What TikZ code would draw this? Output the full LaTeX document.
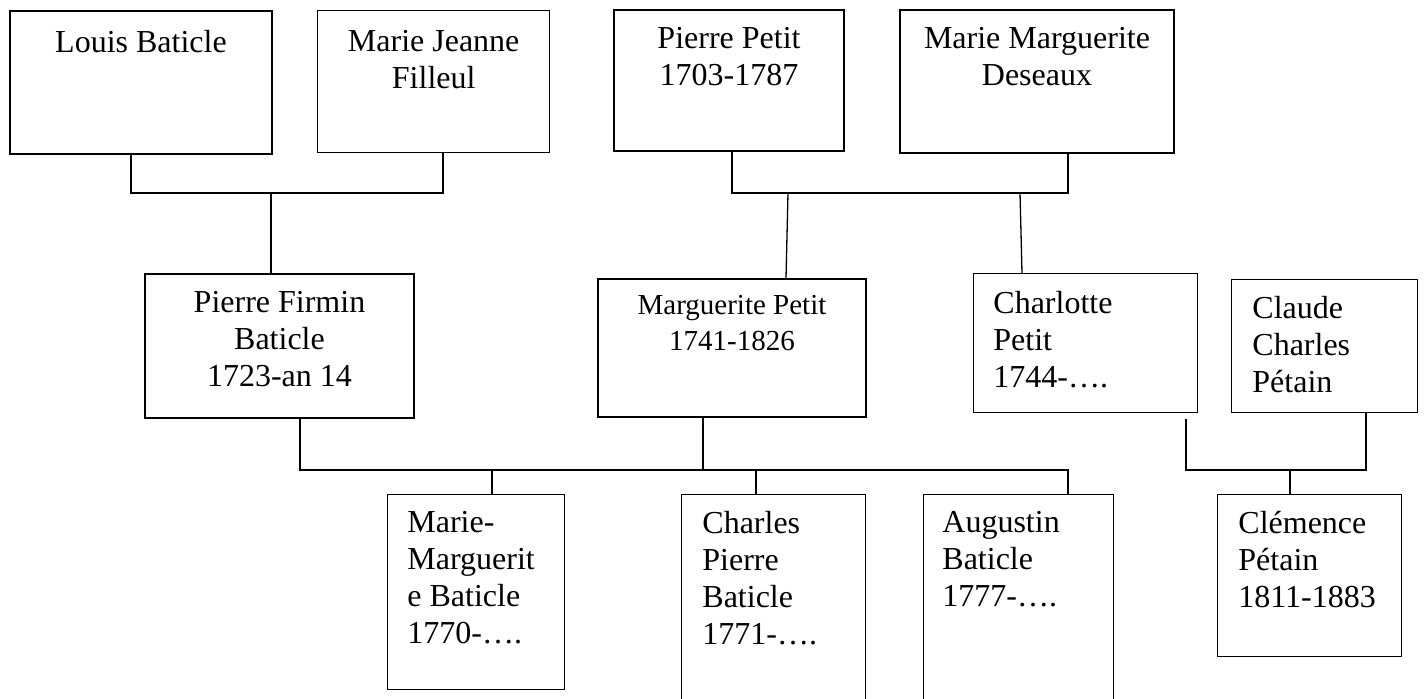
\documentclass[tikz,border=0pt]{standalone}
\usepackage{fontspec}
\setmainfont{Liberation Serif}
\usetikzlibrary{positioning}

\begin{document}
\begin{tikzpicture}[x=0.5pt,y=-0.5pt]
   \useasboundingbox (0,0) rectangle (1424,698);
   \clip (0,0) rectangle (1424,698);
   \fill[white] (0,0) rectangle (1424,698);
   \tikzstyle{pbox}=[draw, line width=1pt, anchor=north west, inner sep=0pt]
   \tikzstyle{light}=[line width=0.7pt]
   \tikzstyle{ptext}=[inner sep=0pt, align=center, font=\fontsize{16pt}{18.5pt}\selectfont]
   \tikzstyle{ptextl}=[inner sep=0pt, align=left, font=\fontsize{16pt}{18.5pt}\selectfont]
   \tikzstyle{tie}=[draw, line width=0.65pt]
   % grands-parents
   \node[pbox, minimum width=131pt, minimum height=71.5pt] (louis) at (9,10) {};
   \node[ptext, below=10pt of louis.north] (louis-t) {Louis Baticle};
   \node[pbox, light, minimum width=116pt, minimum height=71pt] (filleul) at (317,10) {};
   \node[ptext, below=10pt of filleul.north] (filleul-t) {Marie Jeanne\\Filleul};
   \node[pbox, minimum width=115pt, minimum height=70.5pt] (ppetit) at (613,9) {};
   \node[ptext, below=9pt of ppetit.north] (ppetit-t) {Pierre Petit\\1703-1787};
   \node[pbox, minimum width=137pt, minimum height=71.5pt] (deseaux) at (899,9) {};
   \node[ptext, below=9pt of deseaux.north] (deseaux-t) {Marie Marguerite\\Deseaux};
   % parents
   \node[pbox, minimum width=134.5pt, minimum height=72pt] (firmin) at (144,273) {};
   \node[ptext, below=9pt of firmin.north] (firmin-t) {Pierre Firmin\\Baticle\\1723-an 14};
   \node[pbox, minimum width=134pt, minimum height=69pt] (mpetit) at (597,278) {};
   \node[ptext, font=\fontsize{14.5pt}{18pt}\selectfont, below=8.5pt of mpetit.north] (mpetit-t) {Marguerite Petit\\1741-1826};
   \node[pbox, light, minimum width=112pt, minimum height=69.5pt] (charlotte) at (973,273) {};
   \node[ptextl, below right=9pt and 10pt of charlotte.north west] (charlotte-t) {Charlotte\\Petit\\1744-….};
   \node[pbox, light, minimum width=93pt, minimum height=66.5pt] (claude) at (1231,279) {};
   \node[ptextl, below right=8.5pt and 10.5pt of claude.north west] (claude-t) {Claude\\Charles\\Pétain};
   % enfants
   \node[pbox, light, minimum width=88.5pt, minimum height=97.5pt] (mmbaticle) at (387,494) {};
   \node[ptextl, below right=8.5pt and 10pt of mmbaticle.north west] (mmbaticle-t) {Marie-\\Marguerit\\e Baticle\\1770-….};
   \node[pbox, light, minimum width=92pt, minimum height=130pt] (cpbaticle) at (681,494) {};
   \node[ptextl, below right=8.5pt and 10.5pt of cpbaticle.north west] (cpbaticle-t) {Charles\\Pierre\\Baticle\\1771-….};
   \node[pbox, light, minimum width=95pt, minimum height=130pt] (augustin) at (923,494) {};
   \node[ptextl, below right=8.5pt and 9.5pt of augustin.north west] (augustin-t) {Augustin\\Baticle\\1777-….};
   \node[pbox, light, minimum width=92pt, minimum height=81pt] (clemence) at (1217,494) {};
   \node[ptextl, below right=8.5pt and 10.5pt of clemence.north west] (clemence-t) {Clémence\\Pétain\\1811-1883};
   % liens
   \coordinate (a1) at (131,193);
   \coordinate (a2) at (443,193);
   \coordinate (a3) at (271,193);
   \draw[tie] (louis.south -| a1) -- (a1) -- (a2) -- (filleul.south -| a2);
   \draw[tie, line width=1pt] (a3) -- (firmin.north -| a3);
   \coordinate (b1) at (732,193);
   \coordinate (b2) at (1068,193);
   \coordinate (b3) at (788,193);
   \coordinate (b4) at (1020,193);
   \draw[tie] (ppetit.south -| b1) -- (b1) -- (b2) -- (deseaux.south -| b2);
   \draw[tie] (b3) -- ([xshift=-1pt]mpetit.north -| b3);
   \draw[tie] (b4) -- ([xshift=1pt]charlotte.north -| b4);
   \coordinate (c1) at (300,470);
   \coordinate (c2) at (1068,470);
   \coordinate (c3) at (703,470);
   \coordinate (c4) at (492,470);
   \coordinate (c5) at (756,470);
   \draw[tie, line width=0.9pt] (firmin.south -| c1) -- (c1) -- (c2) -- (augustin.north -| c2);
   \draw[tie, line width=0.9pt] (mpetit.south -| c3) -- (c3);
   \draw[tie, line width=0.9pt] (c4) -- (mmbaticle.north -| c4);
   \draw[tie, line width=0.9pt] (c5) -- (cpbaticle.north -| c5);
   \coordinate (d1) at (1186,470);
   \coordinate (d2) at (1366,470);
   \coordinate (d3) at (1290,470);
   \draw[tie, line width=0.9pt] ([yshift=-3pt]charlotte.south -| d1) -- (d1) -- (d2) -- (claude.south -| d2);
   \draw[tie, line width=0.9pt] (d3) -- (clemence.north -| d3);
\end{tikzpicture}
\end{document}
